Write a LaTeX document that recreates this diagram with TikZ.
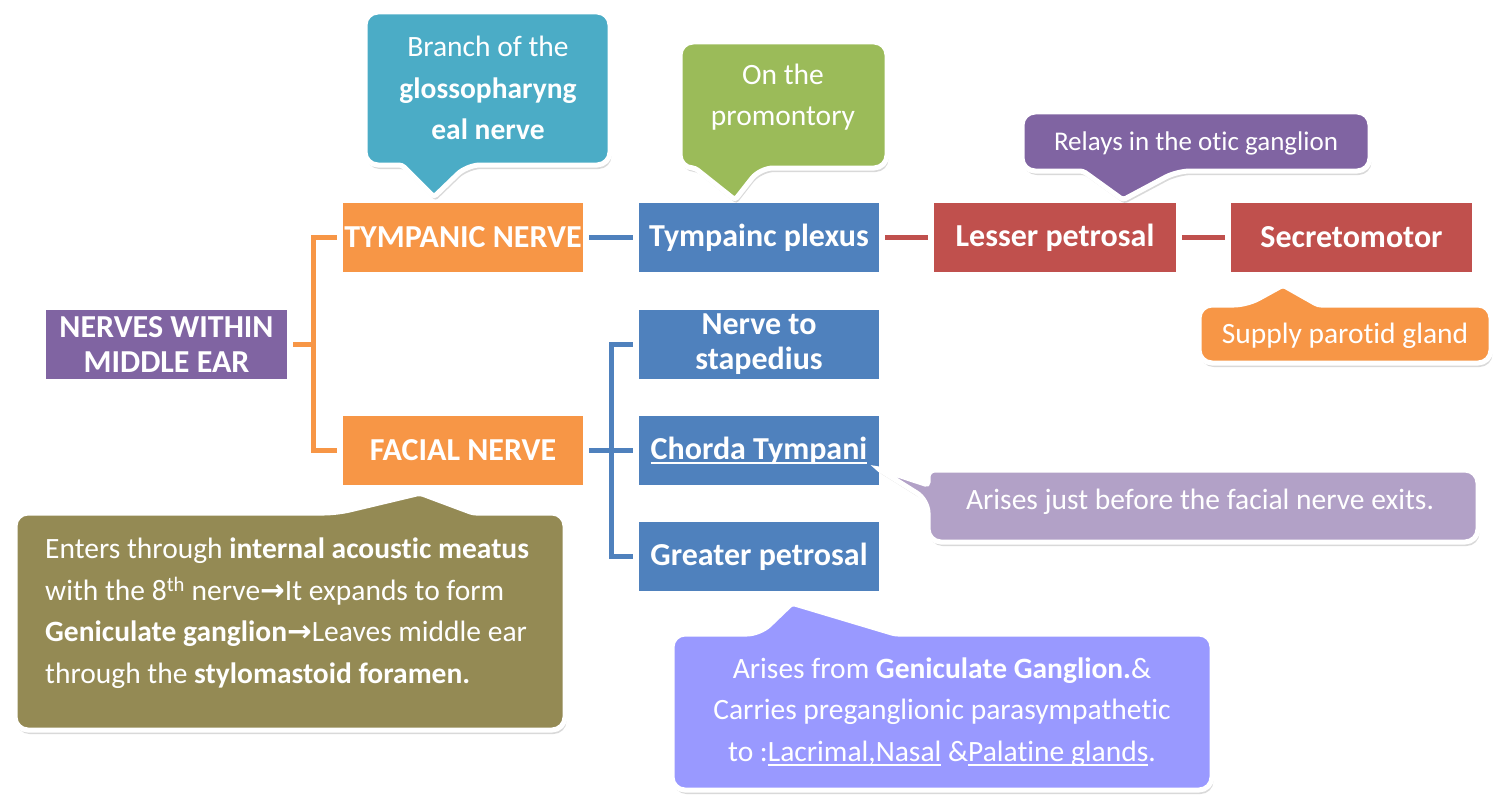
\documentclass[tikz,border=0pt]{standalone}
\usepackage{fontspec}
\setmainfont{Carlito}[Ligatures={NoCommon}]
\newfontfamily\arrowfont{DejaVu Sans}
\usetikzlibrary{shadows}

\definecolor{nervepurple}{HTML}{8064A2}
\definecolor{nerveorange}{HTML}{F79646}
\definecolor{nerveblue}{HTML}{4F81BD}
\definecolor{nervered}{HTML}{C0504D}
\definecolor{noteteal}{HTML}{4BACC6}
\definecolor{notegreen}{HTML}{9BBB59}
\definecolor{notelilac}{HTML}{B2A1C7}
\definecolor{noteolive}{HTML}{948A54}
\definecolor{noteviolet}{HTML}{9999FF}

\newcommand\boxfont{\fontsize{32}{35}\selectfont\bfseries}
\newcommand\notefont{\fontsize{29.5}{41.5}\selectfont}
\newcommand\thickarrow{{\arrowfont\bfseries →}}
\newcommand\undl[1]{\setbox0\hbox{#1}\rlap{\rule[-5pt]{\wd0}{2pt}}\box0\relax}

\tikzset{
  nervebox/.style={fill=#1, text=white, font=\boxfont, align=center,
    minimum width=240pt, minimum height=69pt, inner sep=0pt},
  link/.style={draw=#1, line width=5pt, shorten <=6pt, shorten >=6pt},
  bubble/.style={fill=#1, draw=white, line width=5pt, rounded corners=13pt,
    drop shadow={shadow xshift=1.5pt, shadow yshift=-4pt, opacity=0.3}},
  notetext/.style={text=white, font=\notefont, align=center, inner sep=0pt}
}

\begin{document}
\begin{tikzpicture}[x=1pt,y=-1pt]
  \useasboundingbox (0,0) rectangle (1495,797);

  \node[nervebox=nervepurple, minimum width=241pt] (ear) at (166.5,344.5) {NERVES WITHIN\\MIDDLE EAR};
  \node[nervebox=nerveorange] (tympanic) at (463,237.5) {TYMPANIC NERVE};
  \node[nervebox=nerveorange] (facial) at (463,450.5) {FACIAL NERVE};
  \node[nervebox=nerveblue] (plexus) at (759,237.5) {Tympainc plexus};
  \node[nervebox=nervered, minimum width=242pt] (lesser) at (1055,237.5) {Lesser petrosal};
  \node[nervebox=nervered, minimum width=241pt] (secreto) at (1351.5,237.5) {Secretomotor};
  \node[nervebox=nerveblue] (stapedius) at (759,344.5) {Nerve to\\stapedius};
  \node[nervebox=nerveblue] (chorda) at (759,450.5) {\undl{Chorda Tympani}};
  \node[nervebox=nerveblue] (greater) at (759,556.5) {Greater petrosal};

  \coordinate (earfork) at (313,344.5);
  \coordinate (facialfork) at (611,450.5);

  \draw[link=nerveorange, shorten >=0pt] (ear) -- (earfork);
  \draw[link=nerveorange, shorten <=0pt] (earfork) |- (tympanic);
  \draw[link=nerveorange, shorten <=0pt] (earfork) |- (facial);
  \draw[link=nerveblue] (tympanic) -- (plexus);
  \draw[link=nervered] (plexus) -- (lesser);
  \draw[link=nervered] (lesser) -- (secreto);
  \draw[link=nerveblue, shorten >=0pt] (facial) -- (facialfork);
  \draw[link=nerveblue, shorten <=0pt] (facialfork) |- (stapedius);
  \draw[link=nerveblue, shorten <=0pt] (facialfork) |- (chorda);
  \draw[link=nerveblue, shorten <=0pt] (facialfork) |- (greater);

  % callouts
  \path[bubble=noteteal] (365,12) -- (610,12) -- (610,165) -- (467,165) [rounded corners=3pt]
    -- ([xshift=-29pt,yshift=6pt]tympanic.north) -- (402,165) [rounded corners=13pt] -- (365,165) -- cycle;
  \node[notetext] (branch) at (488,88) {Branch of the\\\textbf{glossopharyng}\\\textbf{eal nerve}};

  \path[bubble=notegreen] (680,42) -- (887,42) -- (887,168) -- (760,168) [rounded corners=3pt]
    -- ([xshift=-24pt,yshift=3pt]plexus.north) -- (695,168) [rounded corners=13pt] -- (680,168) -- cycle;
  \node[notetext] (promontory) at (783,97) {On the\\promontory};

  \path[bubble=nervepurple] (1022,112) -- (1370,112) -- (1370,171) -- (1177,171) [rounded corners=3pt]
    -- ([xshift=68pt,yshift=3pt]lesser.north) -- (1083,171) [rounded corners=13pt] -- (1022,171) -- cycle;
  \node[notetext, font=\fontsize{27}{30}\selectfont] (otic) at (1196,143) {Relays in the otic ganglion};

  \path[bubble=nerveorange] (1199,305) -- (1247,305) [rounded corners=3pt]
    -- ([xshift=-68.5pt,yshift=-13pt]secreto.south) -- (1318,305) [rounded corners=13pt]
    -- (1491,305) -- (1491,363) -- (1199,363) -- cycle;
  \node[notetext] (parotid) at (1345,336) {Supply parotid gland};

  \path[bubble=notelilac] (928,470) -- (1478,470) -- (1478,542) -- (928,542) -- (928,500) [rounded corners=3pt]
    -- ([xshift=-2pt,yshift=17pt]chorda.south east) -- (928,485) [rounded corners=7pt] -- cycle;
  \node[notetext] (exits) at (1200,502) {Arises just before the facial nerve exits.};

  \path[bubble=noteolive] (15,513) -- (337,513) [rounded corners=3pt] -- ([xshift=-43pt,yshift=-8pt]facial.south)
    -- (473,513) [rounded corners=13pt] -- (565,513) -- (565,730) -- (15,730) -- cycle;
  \node[notetext, anchor=west, align=left] (route) at (45,613) {Enters through \textbf{internal acoustic meatus}\\with the 8\textsuperscript{th} nerve\thickarrow It expands to form\\\textbf{Geniculate ganglion}\thickarrow Leaves middle ear\\through the \textbf{stylomastoid foramen.}};

  \path[bubble=noteviolet] (672,634) -- (760,634) [rounded corners=3pt] -- ([xshift=33pt,yshift=-12pt]greater.south)
    -- (895,634) [rounded corners=13pt] -- (1212,634) -- (1212,790) -- (672,790) -- cycle;
  \node[notetext] (glands) at (942,712) {Arises from \textbf{Geniculate Ganglion.}\&\\Carries preganglionic parasympathetic\\to :\undl{Lacrimal,}\undl{Nasal} \&\undl{Palatine glands}.};
\end{tikzpicture}
\end{document}
